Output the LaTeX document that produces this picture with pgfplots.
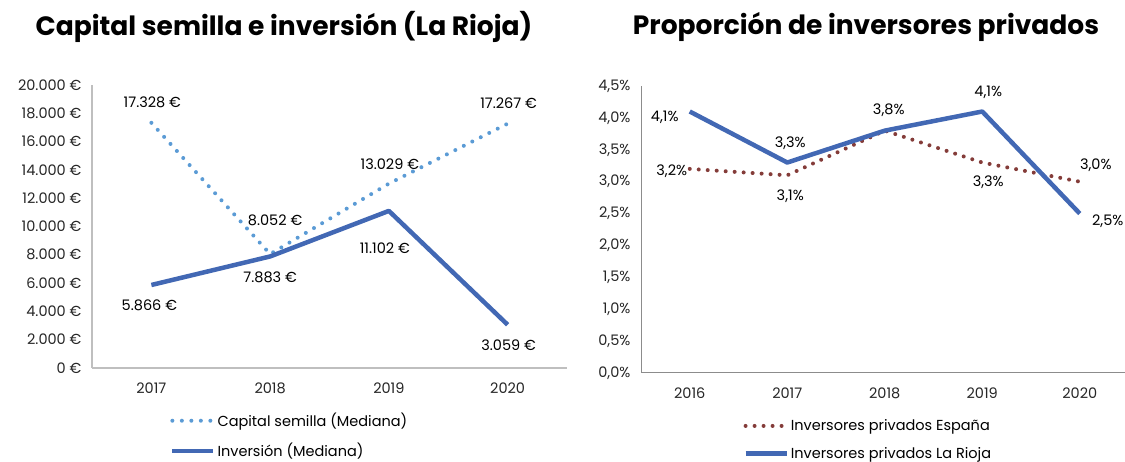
\documentclass[border=0pt]{standalone}
\usepackage{fontspec}
\setmainfont{Poppins}
\usepackage{pgfplots}
\pgfplotsset{compat=1.18}
\definecolor{cslight}{HTML}{5B9BD5}
\definecolor{invblue}{HTML}{4268B4}
\definecolor{espred}{HTML}{843C39}
\definecolor{axgrayA}{HTML}{BFBFBF}
\definecolor{axgrayB}{HTML}{8C8C8C}
\newcommand{\fs}{\fontsize{14.5}{17}\selectfont}
\begin{document}
\begin{tikzpicture}
\useasboundingbox (0pt,0pt) rectangle (1125pt,462pt);
\node[font=\fontsize{26.5}{30}\selectfont\bfseries] at (284pt,435pt) {Capital semilla e inversión (La Rioja)};
\node[font=\fontsize{26.5}{30}\selectfont\bfseries] at (866pt,435pt) {Proporción de inversores privados};

\pgfplotsset{
  mystyle/.style={
    scale only axis,
    anchor=south west,
    axis x line*=bottom,
    axis y line*=left,
    major tick length=0pt,
    scaled ticks=false,
    tick label style={font=\fs, text=black!85},
    yticklabel style={xshift=-7pt},
    xticklabel style={yshift=-11pt},
    clip=false,
    legend style={draw=none, fill=none, font=\fs, inner sep=0pt, row sep=11pt, legend cell align=left},
    legend image code/.code={\draw[##1] (0pt,0pt) -- (41pt,0pt);},
  },
  dotted line/.style={line width=4pt, line cap=round, dash pattern=on 0pt off 9.5pt},
  solid line/.style={line width=4.5pt, line join=round},
}

\begin{axis}[mystyle,
  at={(92pt,94pt)}, width=475pt, height=283pt,
  axis line style={-,draw=axgrayA,line width=1.4pt},
  xmin=-0.5, xmax=3.5, ymin=0, ymax=20000,
  xtick={0,1,2,3}, xticklabels={2017,2018,2019,2020},
  ytick={0,2000,4000,6000,8000,10000,12000,14000,16000,18000,20000},
  yticklabels={0 €,2.000 €,4.000 €,6.000 €,8.000 €,10.000 €,12.000 €,14.000 €,16.000 €,18.000 €,20.000 €},
  legend style={at={(0.164,-0.152)}, anchor=north west},
]
\addplot[cslight, dotted line] coordinates {(0,17328) (1,8052) (2,13029) (3,17267)};
\addlegendentry{Capital semilla (Mediana)}
\addplot[invblue, solid line] coordinates {(0,5866) (1,7883) (2,11102) (3,3059)};
\addlegendentry{Inversión (Mediana)}
\node[font=\fs] at (axis cs:0,17328) [xshift=1pt,yshift=21pt] {17.328 €};
\node[font=\fs] at (axis cs:1,8052) [xshift=5pt,yshift=34pt] {8.052 €};
\node[font=\fs] at (axis cs:2,13029) [xshift=1pt,yshift=19pt] {13.029 €};
\node[font=\fs] at (axis cs:3,17267) [xshift=1pt,yshift=20pt] {17.267 €};
\node[font=\fs] at (axis cs:0,5866) [xshift=-2pt,yshift=-20pt] {5.866 €};
\node[font=\fs] at (axis cs:1,7883) [xshift=0pt,yshift=-21pt] {7.883 €};
\node[font=\fs] at (axis cs:2,11102) [xshift=-4pt,yshift=-37pt] {11.102 €};
\node[font=\fs] at (axis cs:3,3059) [xshift=1pt,yshift=-20pt] {3.059 €};
\end{axis}

\begin{axis}[mystyle,
  at={(641pt,89pt)}, width=484pt, height=287pt,
  axis line style={-,draw=axgrayB,line width=1pt},
  xmin=-0.5, xmax=4.464, ymin=0, ymax=4.5,
  xtick={0,1,2,3,4}, xticklabels={2016,2017,2018,2019,2020},
  ytick={0,0.5,1,1.5,2,2.5,3,3.5,4,4.5},
  yticklabels={{0,0\%},{0,5\%},{1,0\%},{1,5\%},{2,0\%},{2,5\%},{3,0\%},{3,5\%},{4,0\%},{4,5\%}},
  legend style={at={(0.211,-0.155)}, anchor=north west},
]
\addplot[espred, dotted line, dash pattern=on 0pt off 9pt] coordinates {(0,3.2) (1,3.1) (2,3.8) (3,3.3) (4,3.0)};
\addlegendentry{Inversores privados España}
\addplot[invblue, solid line] coordinates {(0,4.1) (1,3.3) (2,3.8) (3,4.1) (4,2.5)};
\addlegendentry{Inversores privados La Rioja}
\node[font=\fs] at (axis cs:0,4.1) [xshift=-25pt,yshift=-6pt] {4,1\%};
\node[font=\fs] at (axis cs:1,3.3) [xshift=3pt,yshift=19pt] {3,3\%};
\node[font=\fs] at (axis cs:2,3.8) [xshift=4pt,yshift=20pt] {3,8\%};
\node[font=\fs] at (axis cs:3,4.1) [xshift=6pt,yshift=19pt] {4,1\%};
\node[font=\fs] at (axis cs:4,2.5) [xshift=28pt,yshift=-8pt] {2,5\%};
\node[font=\fs] at (axis cs:0,3.2) [xshift=-18pt,yshift=-2pt] {3,2\%};
\node[font=\fs] at (axis cs:1,3.1) [xshift=3pt,yshift=-21pt] {3,1\%};
\node[font=\fs] at (axis cs:3,3.3) [xshift=6pt,yshift=-20pt] {3,3\%};
\node[font=\fs] at (axis cs:4,3.0) [xshift=16pt,yshift=16pt] {3,0\%};
\end{axis}
\end{tikzpicture}
\end{document}
